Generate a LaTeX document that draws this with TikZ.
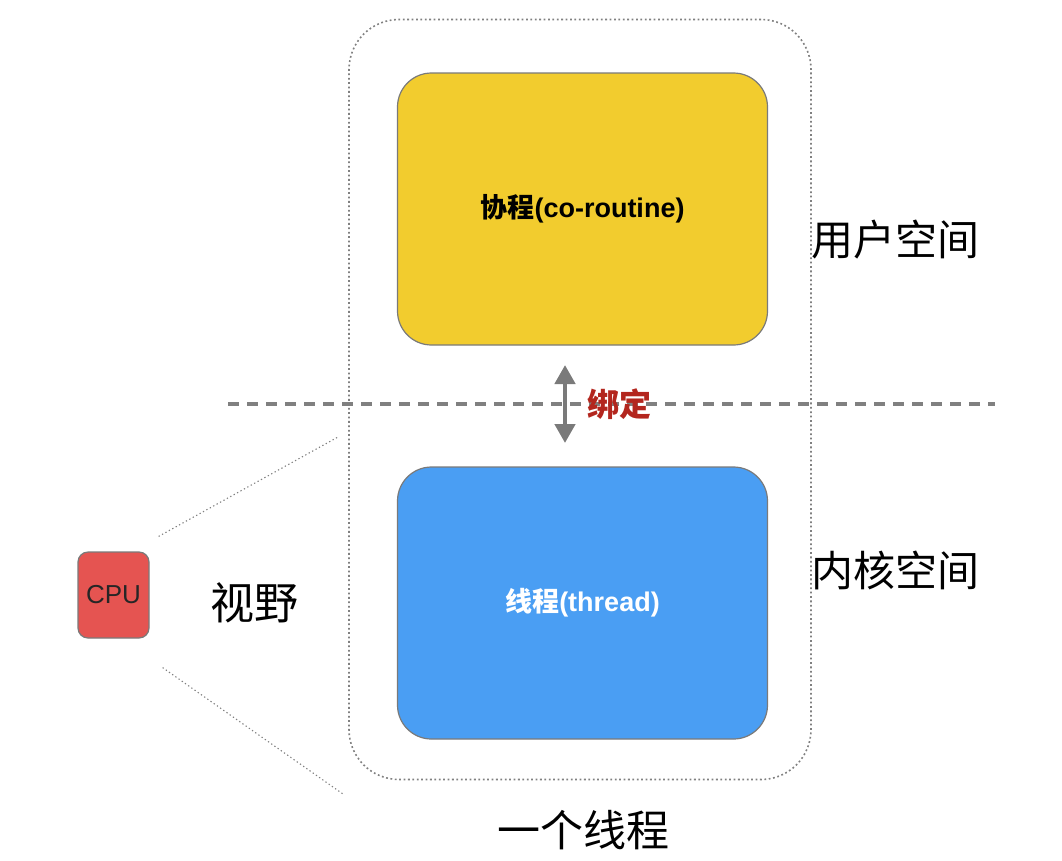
\documentclass[tikz,border=0pt]{standalone}
\usepackage{fontspec}
\setmainfont{Noto Sans CJK SC}
\newfontfamily\latinsans{Liberation Sans}
\usetikzlibrary{arrows.meta}
\definecolor{coyellow}{HTML}{F2CC2E}
\definecolor{thblue}{HTML}{4A9EF3}
\definecolor{cpured}{HTML}{E55451}
\definecolor{bindred}{HTML}{B3261E}
\definecolor{linegray}{HTML}{808080}
\definecolor{edgegray}{HTML}{7A7A7A}
\tikzset{
  box/.style={draw=edgegray, line width=1.2pt, rounded corners=34pt,
    minimum width=370pt, minimum height=272pt, inner sep=0pt,
    font=\fontsize{27}{30}\selectfont\bfseries},
  frame/.style={draw=linegray, line width=1.6pt, dash pattern=on 1.8pt off 2.6pt,
    rounded corners=50pt, minimum width=462pt, minimum height=760pt, inner sep=0pt},
  bigtext/.style={font=\fontsize{42}{46}\selectfont, inner sep=0pt},
  viewline/.style={draw=linegray, line width=1.1pt, dash pattern=on 1.3pt off 2.6pt},
  divider/.style={draw=linegray, line width=3.5pt, dash pattern=on 11pt off 8pt},
  bindarrow/.style={draw=edgegray, line width=4.5pt,
    {Triangle[width=20pt,length=19pt]}-{Triangle[width=20pt,length=19pt]}}
}
\begin{document}
\begin{tikzpicture}[x=1pt,y=-1pt]
  \useasboundingbox (0,0) rectangle (1062,860);

  % one thread: dotted outline
  \node[frame] (thr) at (580,399.5) {};

  % user space / kernel space boxes
  \node[box, fill=coyellow, text=black] (co) at (582.5,209) {协程{\latinsans\bfseries(co-routine)}};
  \node[box, fill=thblue, text=white] (th) at (582.5,603) {线程{\latinsans\bfseries(thread)}};

  % boundary between user and kernel space
  \coordinate (divL) at (228,404);
  \coordinate (divR) at (995,404);
  \draw[divider] (divL) -- (divR);

  % binding arrow
  \coordinate (bindT) at (565,365);
  \coordinate (bindB) at (565,443);
  \draw[bindarrow] (bindT) -- (bindB);
  \node[anchor=west, inner sep=0pt, text=bindred,
        font=\fontsize{32}{36}\selectfont\bfseries] (bind) at (587,404) {绑定};

  % space labels
  \node[bigtext, anchor=west] (user) at (811,240) {用户空间};
  \node[bigtext, anchor=west] (kern) at (811,570) {内核空间};
  \node[bigtext, font=\fontsize{43}{46}\selectfont] (one) at (583,830) {一个线程};

  % CPU and its field of view
  \node[draw=edgegray, line width=1.2pt, fill=cpured, rounded corners=10pt,
        minimum width=71pt, minimum height=86pt, inner sep=0pt,
        font=\latinsans\fontsize{26}{28}\selectfont, text=black!85] (cpu) at (113.5,595) {CPU};
  \node[bigtext, font=\fontsize{44}{48}\selectfont] (view) at (254,603) {视野};
  \coordinate (vt) at (338,437);
  \coordinate (vb) at (343,794);
  \draw[viewline] (cpu.north east) ++(9,-15) -- (vt);
  \draw[viewline] (cpu.south east) ++(13,29) -- (vb);
\end{tikzpicture}
\end{document}
